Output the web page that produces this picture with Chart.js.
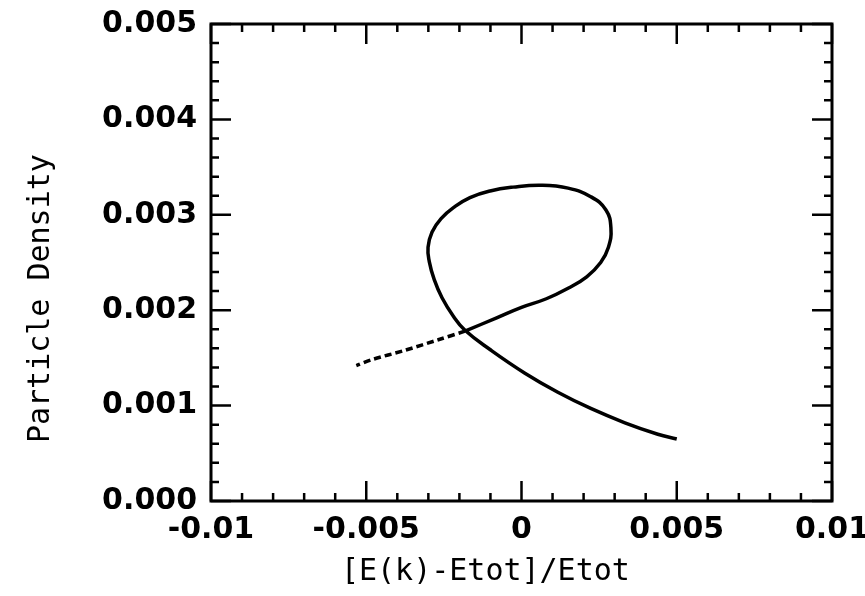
<!DOCTYPE html>
<html>
<head>
  <meta charset="UTF-8">
  <title>Particle Density vs Energy</title>
  <script src="https://cdn.jsdelivr.net/npm/chart.js"></script>
  <style>
    body { margin: 0; background: #fff; }
    canvas { display: block; }
  </style>
</head>
<body>
  <canvas id="chart" width="865" height="596"></canvas>
  <script>
    // curve: solid part (lower branch + loop), then the dashed tail
    const solidX = [0.00500, 0.00439, 0.00333, 0.00223, 0.00117, 0.00011, -0.00098, -0.00182,
      -0.00220, -0.00256, -0.00281, -0.00297, -0.00301, -0.00288, -0.00259, -0.00217, -0.00166,
      -0.00101, -0.00027, 0.00063, 0.00150, 0.00223, 0.00272, 0.00288, 0.00280, 0.00255,
      0.00210, 0.00150, 0.00080, 0.00000, -0.00080, -0.00182];
    const solidY = [0.00065, 0.00070, 0.00082, 0.00097, 0.00114, 0.00134, 0.00158, 0.00179,
      0.00194, 0.00213, 0.00232, 0.00251, 0.00266, 0.00282, 0.00296, 0.00308, 0.00318,
      0.00325, 0.00329, 0.00331, 0.00328, 0.00319, 0.00305, 0.00286, 0.00266, 0.00250,
      0.00235, 0.00223, 0.00212, 0.00203, 0.00192, 0.00178];
    const dashX = [-0.00182, -0.00268, -0.00375, -0.00484, -0.00532];
    const dashY = [0.00178, 0.00169, 0.00158, 0.00148, 0.00142];

    const xTickLabels = ["-0.01", "-0.005", "0", "0.005", "0.01"];
    const yTickLabels = ["0.000", "0.001", "0.002", "0.003", "0.004", "0.005"];
    const xTitle = "[E(k)-Etot]/Etot    ";
    const yTitle = "Particle Density    ";

    const toPoints = (xs, ys) => xs.map((x, i) => ({ x: x, y: ys[i] }));

    // box around the plot with inward major/minor ticks on all four sides
    const frameTicks = {
      id: "frameTicks",
      afterDatasetsDraw(chart) {
        const { ctx, chartArea: a, scales: { x, y } } = chart;
        ctx.save();
        ctx.strokeStyle = "#000";
        ctx.lineWidth = 3;
        ctx.strokeRect(a.left, a.top, a.right - a.left, a.bottom - a.top);
        ctx.lineWidth = 2.5;
        ctx.beginPath();
        for (let i = 0; i <= 20; i++) {
          const px = x.getPixelForValue(-0.01 + i * 0.001);
          const len = i % 5 === 0 ? 20 : 8;
          ctx.moveTo(px, a.bottom); ctx.lineTo(px, a.bottom - len);
          ctx.moveTo(px, a.top); ctx.lineTo(px, a.top + len);
        }
        for (let i = 0; i <= 25; i++) {
          const py = y.getPixelForValue(i * 0.0002);
          const len = i % 5 === 0 ? 20 : 8;
          ctx.moveTo(a.left, py); ctx.lineTo(a.left + len, py);
          ctx.moveTo(a.right, py); ctx.lineTo(a.right - len, py);
        }
        ctx.stroke();
        ctx.restore();
      }
    };

    const tickFont = { family: "DejaVu Sans", size: 30, weight: "bold", lineHeight: 1 };
    const titleFont = { family: "DejaVu Sans Mono", size: 30, weight: "normal", lineHeight: 1 };

    new Chart(document.getElementById("chart").getContext("2d"), {
      type: "scatter",
      data: {
        datasets: [
          {
            data: toPoints(solidX, solidY),
            showLine: true,
            borderColor: "#000",
            borderWidth: 3.5,
            pointRadius: 0,
            tension: 0.45
          },
          {
            data: toPoints(dashX, dashY),
            showLine: true,
            borderColor: "#000",
            borderWidth: 3.5,
            borderDash: [7, 4],
            pointRadius: 0,
            tension: 0.3
          }
        ]
      },
      options: {
        responsive: false,
        animation: false,
        layout: { padding: { left: 0, right: 33, top: 24, bottom: 0 } },
        plugins: { legend: { display: false }, tooltip: { enabled: false } },
        scales: {
          x: {
            type: "linear",
            min: -0.01,
            max: 0.01,
            afterFit: (s) => { s.height = 95; s.paddingLeft = 0; s.paddingRight = 0; },
            grid: { display: false, drawTicks: false },
            border: { display: false },
            ticks: {
              stepSize: 0.005,
              autoSkip: false,
              maxRotation: 0,
              padding: 14,
              color: "#000",
              font: tickFont,
              callback: (v, i) => xTickLabels[i]
            },
            title: { display: true, text: xTitle, color: "#000", font: titleFont, padding: { top: 0, bottom: 9 } }
          },
          y: {
            type: "linear",
            min: 0,
            max: 0.005,
            afterFit: (s) => { s.width = 211; s.paddingTop = 0; s.paddingBottom = 0; },
            grid: { display: false, drawTicks: false },
            border: { display: false },
            ticks: {
              stepSize: 0.001,
              autoSkip: false,
              padding: 14,
              color: "#000",
              font: tickFont,
              callback: (v, i) => yTickLabels[i]
            },
            title: { display: true, text: yTitle, color: "#000", font: titleFont, padding: { top: 26, bottom: 0 } }
          }
        }
      },
      plugins: [frameTicks]
    });
  </script>
</body>
</html>
